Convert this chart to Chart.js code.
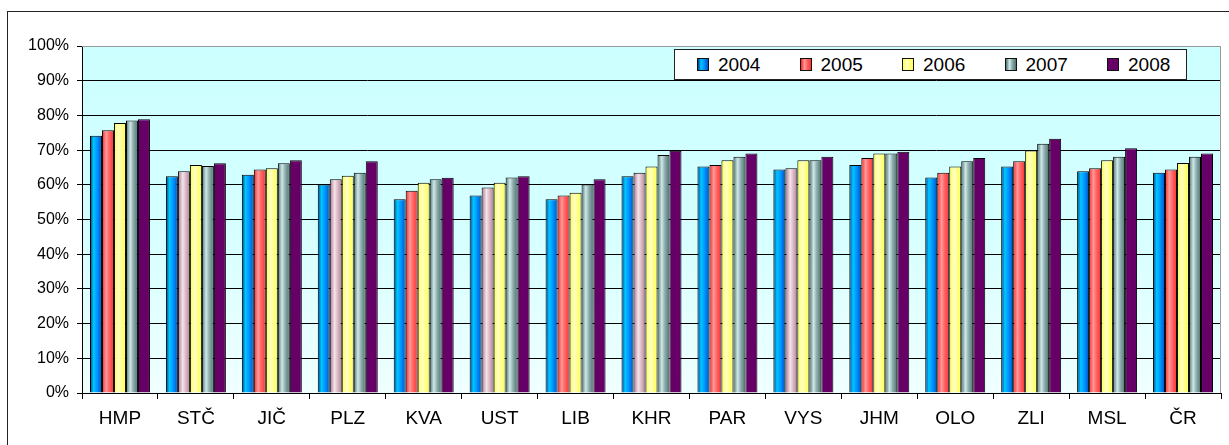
<!DOCTYPE html>
<html>
<head>
<meta charset="utf-8">
<script src="https://cdn.jsdelivr.net/npm/chart.js@4.4.0/dist/chart.umd.min.js"></script>
<style>
  body { margin: 0; background: #fff; }
  #wrap { position: relative; width: 1229px; height: 445px; overflow: hidden; }
  #chart { position: absolute; left: 0; top: 0; }
  #legend {
    position: absolute; left: 674px; top: 49px; width: 511px; height: 29px;
    background: #fff; border: 1px solid #222;
    font-family: "Liberation Sans", Arial, sans-serif; font-size: 19px; color: #000;
  }
  .item { position: absolute; top: 0; height: 29px; line-height: 30px; }
  .mark { position: absolute; top: 8px; width: 10px; height: 11px; border: 1px solid #111; }
  .lbl { position: absolute; left: 21px; white-space: nowrap; }
</style>
</head>
<body>
<div id="wrap">
  <canvas id="chart" width="1229" height="445"></canvas>
  <div id="legend"></div>
</div>
<script>
const categories = ['HMP', 'STČ', 'JIČ', 'PLZ', 'KVA', 'UST', 'LIB', 'KHR', 'PAR', 'VYS', 'JHM', 'OLO', 'ZLI', 'MSL', 'ČR']
const years = ['2004', '2005', '2006', '2007', '2008']

const values2004 = [74.1, 62.5, 62.9, 60.1, 55.8, 56.9, 55.8, 62.5, 65.3, 64.4, 65.7, 62.1, 65.3, 63.9, 63.5]
const values2005 = [75.7, 63.9, 64.4, 61.6, 58.3, 59.2, 56.9, 63.5, 65.7, 64.8, 67.7, 63.5, 66.8, 64.8, 64.4]
const values2006 = [77.8, 65.7, 64.8, 62.6, 60.6, 60.6, 57.7, 65.3, 67.1, 67.1, 69.0, 65.3, 69.9, 67.1, 66.3]
const values2007 = [78.5, 65.4, 66.2, 63.5, 61.6, 62.1, 60.1, 68.6, 68.1, 67.1, 69.0, 66.8, 71.8, 68.1, 68.1]
const values2008 = [78.9, 66.2, 67.1, 66.8, 62.0, 62.5, 61.6, 69.8, 69.0, 68.1, 69.5, 67.7, 73.3, 70.5, 69.0]

const yTicks = [0, 10, 20, 30, 40, 50, 60, 70, 80, 90, 100]

// gradient stops per series (left -> right across a bar)
const shades = [
  [[0, '#003c8c'], [0.3, '#00c8ff'], [0.6, '#0096ff'], [1, '#0050c8']],
  [[0, '#ff2020'], [0.35, '#ff9a9a'], [0.6, '#ff6666'], [1, '#ff3030']],
  [[0, '#ffff40'], [0.4, '#ffffc8'], [0.7, '#ffff80'], [1, '#ffff50']],
  [[0, '#4c7070'], [0.35, '#d0e8e8'], [0.6, '#90b0b0'], [1, '#507070']],
  [[0, '#660066'], [1, '#660066']],
]
// some 2005 bars in the original are a pinkish shade
const pinkShade = [[0, '#a87088'], [0.4, '#f4e4ec'], [0.7, '#d8b0c0'], [1, '#b08090']]
const pinkBars = ['STČ', 'PLZ', 'UST', 'KHR', 'VYS']

const font = "'Liberation Sans', Arial, sans-serif"

const cssGrad = (stops) =>
  `linear-gradient(to right, ${stops.map(([p, c]) => `${c} ${p * 100}%`).join(', ')})`

// html legend inside the plot
const legendBox = document.getElementById('legend')
years.forEach((year, i) => {
  const item = document.createElement('div')
  item.className = 'item'
  item.style.left = `${22 + i * 102.5}px`
  item.innerHTML = `<span class="mark" style="background:${cssGrad(shades[i])}"></span><span class="lbl">${year}</span>`
  legendBox.appendChild(item)
})

const frame = {
  id: 'frame',
  beforeDraw(chart) {
    const { ctx, chartArea: a } = chart
    ctx.save()
    ctx.strokeStyle = '#222'
    ctx.lineWidth = 1
    ctx.strokeRect(7.5, 11.5, 1400, 600)
    const g = ctx.createLinearGradient(0, a.top, 0, a.bottom)
    g.addColorStop(0, '#ccffff')
    g.addColorStop(0.5, '#d4ffff')
    g.addColorStop(1, '#f0ffff')
    ctx.fillStyle = g
    ctx.fillRect(a.left, a.top, a.right - a.left, a.bottom - a.top)
    ctx.restore()
  },
  beforeDatasetsDraw(chart) {
    const { ctx } = chart
    chart.data.datasets.forEach((ds, di) => {
      chart.getDatasetMeta(di).data.forEach((bar, i) => {
        const { x, width } = bar.getProps(['x', 'width'], true)
        const stops = (di === 1 && pinkBars.includes(categories[i])) ? pinkShade : shades[di]
        const g = ctx.createLinearGradient(x - width / 2, 0, x + width / 2, 0)
        stops.forEach(([p, c]) => g.addColorStop(p, c))
        bar.options = Object.assign({}, bar.options, { backgroundColor: g })
      })
    })
  },
  afterDraw(chart) {
    const { ctx, chartArea: a } = chart
    ctx.save()
    ctx.strokeStyle = '#999'
    ctx.lineWidth = 1
    ctx.beginPath()
    ctx.moveTo(a.left, a.top + 0.5)
    ctx.lineTo(a.right - 0.5, a.top + 0.5)
    ctx.lineTo(a.right - 0.5, a.bottom)
    ctx.stroke()
    ctx.restore()
  }
}

const seriesValues = [values2004, values2005, values2006, values2007, values2008]

new Chart(document.getElementById('chart'), {
  type: 'bar',
  data: {
    labels: categories,
    datasets: years.map((year, i) => ({
      label: year,
      data: seriesValues[i],
      backgroundColor: shades[i][0][1],
      borderColor: '#000',
      borderWidth: 1,
      categoryPercentage: 0.79,
      barPercentage: 1,
    }))
  },
  options: {
    responsive: false,
    animation: false,
    devicePixelRatio: 1,
    layout: { padding: { top: 46, right: 8, left: 0, bottom: 0 } },
    plugins: {
      legend: { display: false },
      tooltip: { enabled: false },
    },
    scales: {
      x: {
        grid: { display: true, drawOnChartArea: false, drawTicks: true, tickLength: 6, color: '#000', offset: true },
        border: { color: '#000' },
        ticks: { color: '#000', font: { family: font, size: 19 }, padding: 8, maxRotation: 0, autoSkip: false },
        afterFit: (s) => { s.height = 52 },
      },
      y: {
        min: 0,
        max: 100,
        afterBuildTicks: (s) => { s.ticks = yTicks.map(v => ({ value: v })) },
        ticks: { color: '#000', font: { family: font, size: 16 }, padding: 8, callback: (v) => `${v}%` },
        grid: { color: (c) => c.tick && c.tick.value === 100 ? '#999' : '#000', tickColor: '#000', tickLength: 5 },
        border: { color: '#000' },
        afterFit: (s) => { s.width = 82 },
      }
    }
  },
  plugins: [frame]
})
</script>
</body>
</html>
